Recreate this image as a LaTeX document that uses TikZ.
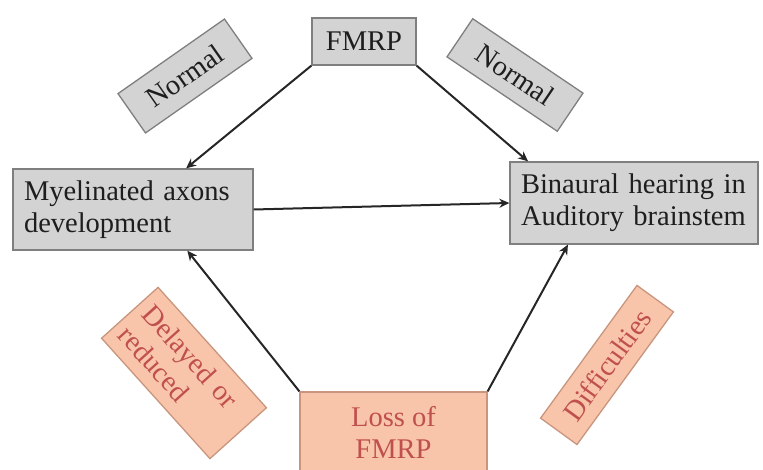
\documentclass[tikz,border=0pt]{standalone}
\usepackage{fontspec}
\setmainfont{Liberation Serif}
\usetikzlibrary{arrows.meta,calc}
\definecolor{boxgray}{HTML}{D3D3D3}
\definecolor{edgegray}{HTML}{7F7F7F}
\definecolor{peach}{HTML}{F8C4AA}
\definecolor{peachedge}{HTML}{C8967F}
\definecolor{redtext}{HTML}{C0504D}
\definecolor{darktext}{HTML}{1E1E1E}
\tikzset{
  graybox/.style={draw=edgegray, line width=1.3pt, fill=boxgray, text=darktext,
    font=\fontsize{28.5}{32}\selectfont, inner sep=0pt},
  peachbox/.style={draw=peachedge, line width=1.3pt, fill=peach, text=redtext,
    font=\fontsize{28.5}{32}\selectfont, inner sep=0pt},
  conn/.style={draw=black!85, line width=2pt, -{Stealth[length=10pt,width=9pt]}}
}
\begin{document}
\begin{tikzpicture}[x=1pt,y=-1pt]
\useasboundingbox (0,0) rectangle (763,470);
\node[graybox, minimum width=104, minimum height=47] (fmrp) at (364,41.5) {FMRP};
\node[graybox, rotate=35, minimum width=130, minimum height=48] (n1) at (185,76) {Normal};
\node[graybox, rotate=-34, minimum width=133, minimum height=46] (n2) at (515,75) {Normal};
\node[graybox, minimum width=240, minimum height=81, text width=218, inner xsep=11, align=left] (mye) at (133,209.5) {Myelinated axons\\development};
\node[graybox, minimum width=248, minimum height=82, text width=226, inner xsep=11, align=left] (bin) at (634,203) {Binaural hearing in\\Auditory brainstem};
\node[peachbox, minimum width=187, minimum height=80, align=center] (loss) at (393.5,432) {Loss of\\FMRP};
\node[peachbox, rotate=-48, minimum width=162, minimum height=76, text width=144, inner xsep=9, align=left] (del) at (184,373) {Delayed or\\reduced};
\node[peachbox, rotate=54, minimum width=164, minimum height=45] (dif) at (607,365) {Difficulties};
\draw[conn] (fmrp.south west) -- ($(mye.north west)!0.72!(mye.north east)$);
\draw[conn] (fmrp.south east) -- ($(bin.north west)!0.075!(bin.north east)$);
\draw[conn] (mye.east) -- (bin.west);
\draw[conn] (loss.north west) -- ($(mye.south west)!0.725!(mye.south east)$);
\draw[conn] (loss.north east) -- ($(bin.south west)!0.235!(bin.south east)$);
\end{tikzpicture}
\end{document}
